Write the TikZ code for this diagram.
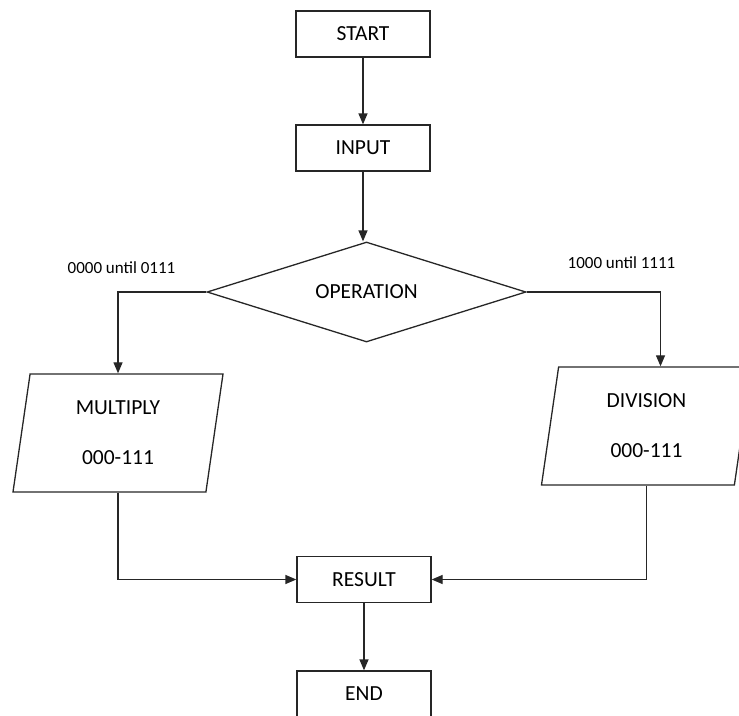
\documentclass[tikz,border=0pt]{standalone}
\usepackage{fontspec}
\setmainfont{Carlito}
\usetikzlibrary{shapes.geometric,arrows.meta}

\tikzset{
  flowline/.style={draw=black!85, line width=1.3pt},
  arr/.style={flowline, -{Triangle[width=9pt,length=11pt]}},
  stepbox/.style={flowline, rectangle, minimum width=134pt, minimum height=46pt,
    font=\fontsize{21.5}{26}\selectfont},
  decide/.style={flowline, diamond, shape aspect=3.19, minimum width=319pt, minimum height=100pt,
    inner sep=0pt, font=\fontsize{21.5}{26}\selectfont},
  calc/.style={flowline, trapezium, trapezium left angle=76.4, trapezium right angle=103.6,
    trapezium stretches body, minimum width=210pt, minimum height=118pt,
    align=center, font=\fontsize{21.5}{50}\selectfont},
  bitlabel/.style={font=\fontsize{17}{20}\selectfont}
}

\begin{document}
\begin{tikzpicture}[x=1pt,y=-1pt]
\useasboundingbox (0,0) rectangle (739,715);

\node[stepbox] (start) at (363,34) {START};
\node[stepbox] (input) at (363,148) {INPUT};
\node[decide] (op) at (366.5,292) {OPERATION};
\node[bitlabel] (lowlbl) at (121.5,268) {0000 until 0111};
\node[bitlabel] (highlbl) at (621.5,263) {1000 until 1111};
\node[calc] (mul) at (118,433) {MULTIPLY\\000-111};
\node[calc] (div) at (646.5,426) {DIVISION\\000-111};
\node[stepbox] (res) at (364,579.5) {RESULT};
\node[stepbox] (stop) at (364,694) {END};

\draw[arr] (start) -- (input);
\draw[arr] (input.south) -- (input.south |- op.north);
\draw[arr] (op.west) -| (mul.north);
\draw[arr] (op.east) -| ([xshift=14pt]div.north);
\draw[arr] (mul.south) |- (res.west);
\draw[arr] (div.south) |- (res.east);
\draw[arr] (res) -- (stop);
\end{tikzpicture}
\end{document}
